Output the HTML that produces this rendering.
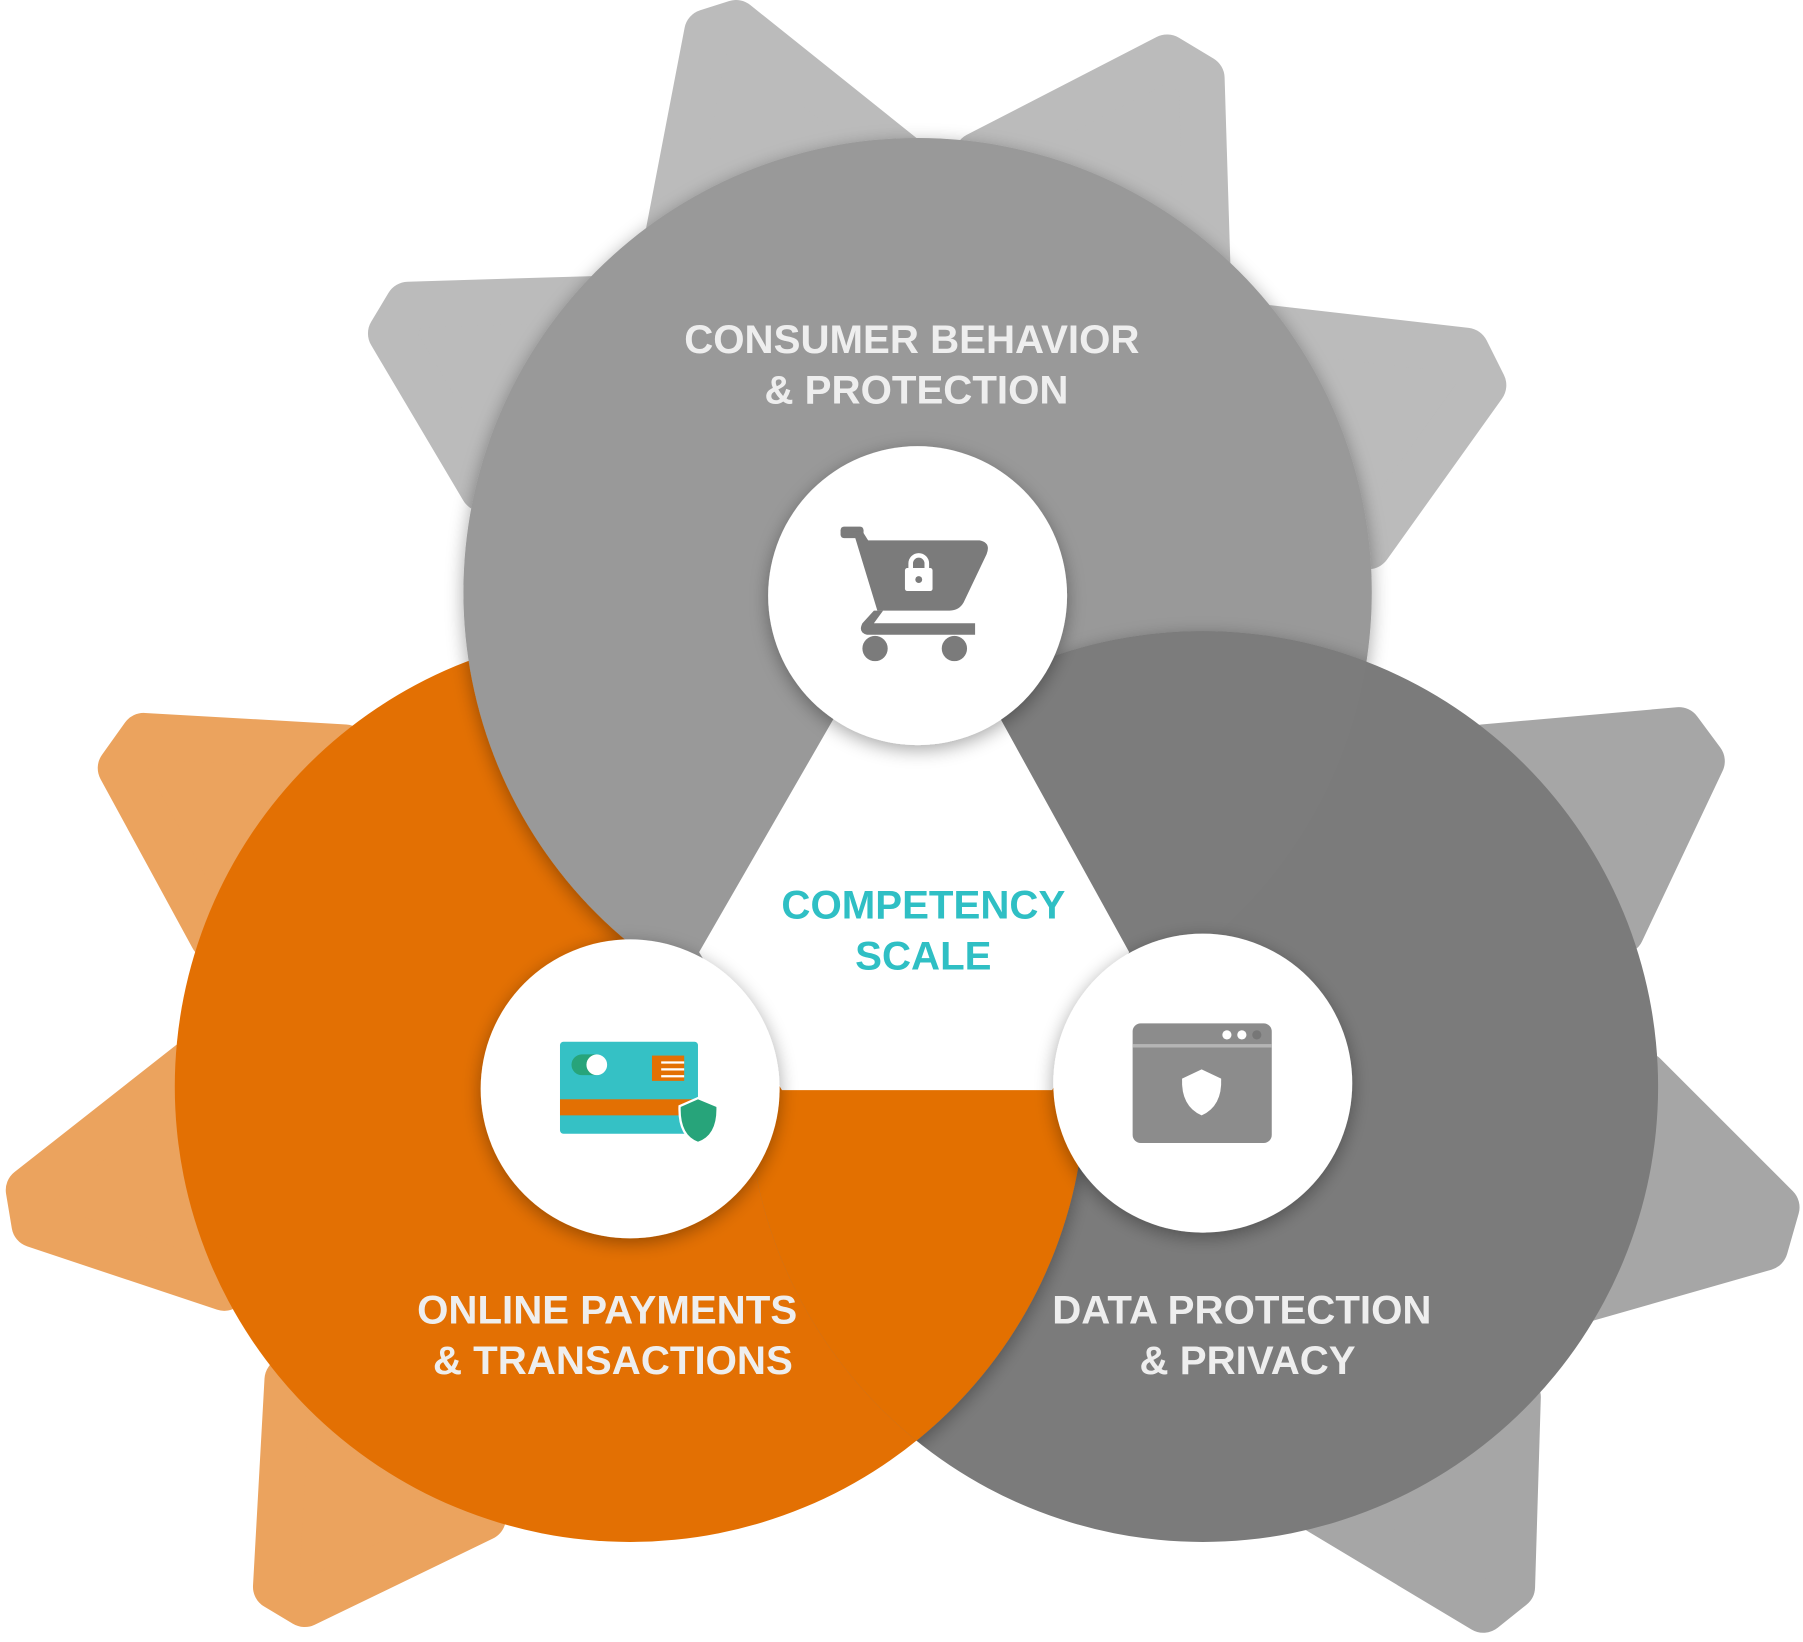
<!DOCTYPE html>
<html><head><meta charset="utf-8"><style>
html,body{margin:0;padding:0;background:#fff;}
svg{display:block;}
text{font-family:"Liberation Sans",sans-serif;font-weight:bold;text-anchor:middle;}
</style></head><body>
<svg width="1803" height="1642" viewBox="0 0 1568 1428" xmlns="http://www.w3.org/2000/svg">
<defs>
<clipPath id="cd"><circle cx="1046" cy="945" r="396"/></clipPath>
<clipPath id="cg"><circle cx="798" cy="515" r="395"/></clipPath>
<filter id="sh" x="-20%" y="-20%" width="140%" height="140%"><feGaussianBlur in="SourceAlpha" stdDeviation="8"/><feOffset dx="0" dy="4"/><feComponentTransfer><feFuncA type="linear" slope="0.35"/></feComponentTransfer><feMerge><feMergeNode/><feMergeNode in="SourceGraphic"/></feMerge></filter>
</defs>
<g stroke-linejoin="round" stroke-width="40">
<g fill="#bbbbbb" stroke="#bbbbbb">
<polygon points="580,210 615,28 640,20 790,140"/>
<polygon points="850,135 1015,50 1045,68 1050,230"/>
<polygon points="1100,285 1275,305 1290,335 1190,475"/>
<polygon points="520,260 355,265 340,290 420,425"/>
</g>
<g fill="#eba35e" stroke="#eba35e">
<polygon points="300,650 125,640 105,668 185,815"/>
<polygon points="165,925 25,1035 30,1065 195,1120"/>
<polygon points="250,1200 240,1380 265,1395 420,1320"/>
</g>
<g fill="#a6a6a6" stroke="#a6a6a6">
<polygon points="1290,650 1460,635 1480,662 1410,810"/>
<polygon points="1430,935 1545,1050 1535,1085 1360,1135"/>
<polygon points="1320,1215 1315,1380 1290,1400 1140,1310"/>
</g>
</g>
<circle cx="548" cy="945" r="396" fill="#e37003"/>
<circle cx="798" cy="515" r="395" fill="#999999" filter="url(#sh)"/>
<circle cx="1046" cy="945" r="396" fill="#7b7b7b"/>
<g clip-path="url(#cg)"><circle cx="1046" cy="945" r="396" fill="#7b7b7b" filter="url(#sh)"/></g>
<g clip-path="url(#cd)"><circle cx="548" cy="945" r="396" fill="#e37003" filter="url(#sh)"/></g>
<polygon points="725,625 870,625 982,828 915,948 680,948 608,828" fill="#ffffff"/>
<circle cx="798" cy="518" r="130" fill="#fff" filter="url(#sh)"/>
<circle cx="548" cy="947" r="130" fill="#fff" filter="url(#sh)"/>
<circle cx="1046" cy="942" r="130" fill="#fff" filter="url(#sh)"/>
<g fill="#7b7b7b">
<rect x="731" y="458" width="20" height="10" rx="3"/>
<path d="M742,462 L750,462 L755,470 L852,470 Q862,472 858,482 L838,524 Q834,531 826,531 L763,531 Z"/>
<path d="M760,531 L768,531 L760,542 L848,542 L848,552 L754,552 Q746,550 750,542 Z"/>
<circle cx="761" cy="564" r="11"/><circle cx="830" cy="564" r="11"/>
</g>
<rect x="787" y="494" width="24" height="20" rx="2" fill="#fff"/>
<path d="M792,495 v-5 a7,7 0 0 1 14,0 v5" stroke="#fff" stroke-width="4" fill="none"/>
<circle cx="799" cy="504" r="3" fill="#7b7b7b"/>
<rect x="487" y="906" width="120" height="80" rx="3" fill="#35c1c5"/>
<rect x="487" y="956" width="120" height="14" fill="#e37003"/>
<rect x="497" y="917" width="30" height="18" rx="9" fill="#27a47a"/>
<circle cx="519" cy="926" r="9" fill="#fff"/>
<rect x="567" y="918" width="28" height="22" fill="#e37003"/>
<path d="M575,924 h20 M575,930 h20 M575,936 h20" stroke="#fff" stroke-width="2"/>
<path d="M591,962 L607,955 L624,962 Q625,988 607,994 Q590,988 591,962 Z" fill="#27a47a" stroke="#fff" stroke-width="2"/>
<rect x="985" y="890" width="121" height="104" rx="7" fill="#8c8c8c"/>
<rect x="985" y="908" width="121" height="3" fill="#b5b5b5"/>
<circle cx="1067" cy="900" r="4" fill="#fff"/><circle cx="1080" cy="900" r="4" fill="#fff"/><circle cx="1093" cy="900" r="4" fill="#777"/>
<path d="M1028,938 L1045,930 L1062,938 Q1063,962 1045,970 Q1027,962 1028,938 Z" fill="#fff"/>
<text x="793" y="307" font-size="35" fill="#eeeeee">CONSUMER BEHAVIOR</text>
<text x="797" y="351" font-size="35" fill="#eeeeee">&amp; PROTECTION</text>
<text x="803" y="799" font-size="35" fill="#2fbfc4">COMPETENCY</text>
<text x="803" y="843" font-size="35" fill="#2fbfc4">SCALE</text>
<text x="528" y="1151" font-size="35" fill="#eeeeee">ONLINE PAYMENTS</text>
<text x="533" y="1195" font-size="35" fill="#eeeeee">&amp; TRANSACTIONS</text>
<text x="1080" y="1151" font-size="35" fill="#eeeeee">DATA PROTECTION</text>
<text x="1085" y="1195" font-size="35" fill="#eeeeee">&amp; PRIVACY</text>
</svg>
</body></html>
